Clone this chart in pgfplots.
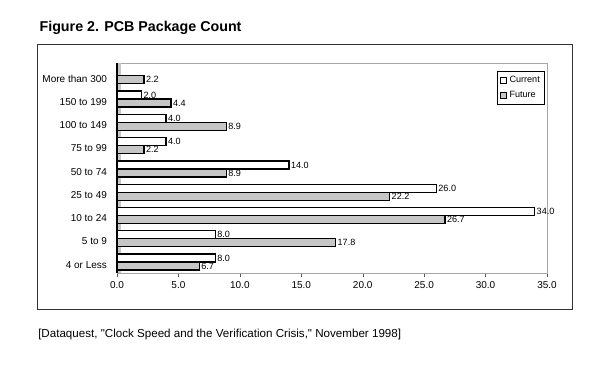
\documentclass[border=0pt]{standalone}
\usepackage{fontspec}
\setmainfont{Liberation Sans}
\usepackage{pgfplots}
\pgfplotsset{compat=1.18}
\begin{document}
\begin{tikzpicture}
\path[use as bounding box] (0,0) rectangle (450pt,281.25pt);
\draw[black!80, line width=0.6pt] (27.75pt,49.5pt) rectangle (429pt,248.25pt);
\node[anchor=west, font=\bfseries\fontsize{10.7}{12}\selectfont, inner sep=0] at (29.5pt,260.5pt) {Figure 2. PCB Package Count};
\node[anchor=west, font=\fontsize{8.7}{10}\selectfont, inner sep=0] at (28.5pt,30pt) {[Dataquest, \textquotedbl Clock Speed and the Verification Crisis,\textquotedbl\ November 1998]};
\begin{axis}[
  at={(87.75pt,76.5pt)}, anchor=south west, scale only axis,
  width=322.5pt, height=157.5pt,
  xmin=0, xmax=35, ymin=-0.47, ymax=8.55,
  xtick={0,5,...,35},
  ytick={0,...,8},
  yticklabels={4 or Less, 5 to 9, 10 to 24, 25 to 49, 50 to 74, 75 to 99, 100 to 149, 150 to 199, More than 300},
  /pgf/number format/fixed, /pgf/number format/fixed zerofill,
  /pgf/number format/precision=1, /pgf/number format/assume math mode=true,
  tick align=outside, major tick length=3pt,
  xtick pos=bottom, ytick pos=left,
  ytick style={draw=none},
  xtick style={gray!70!black},
  axis line style={gray!70},
  x tick label style={font=\fontsize{7.5}{8}\selectfont},
  y tick label style={font=\fontsize{7.5}{8}\selectfont, yshift=-2pt, xshift=-1pt},
  xbar, bar width=6pt,
  nodes near coords,
  nodes near coords style={font=\fontsize{6.8}{7}\selectfont, anchor=west, inner sep=1pt},
  legend style={at={(0.995,0.96)}, anchor=north east, font=\fontsize{6.8}{8}\selectfont, draw=black, line width=0.6pt, inner sep=1.5pt, row sep=1pt},
  legend cell align=left,
  legend image code/.code={\draw[#1, line width=0.9pt] (0pt,-2.2pt) rectangle (4.4pt,2.2pt);},
  clip=false,
]
\fill[gray!45] (rel axis cs:0,0) rectangle (rel axis cs:0.009,1);
\draw[black, line width=1.2pt] (rel axis cs:0,0) -- (rel axis cs:0,1);
\addplot[fill=white, draw=black, line width=1pt, bar shift=3pt] coordinates {(8,0) (8,1) (34,2) (26,3) (14,4) (4,5) (4,6) (2,7)};
\addplot[fill=gray!45, draw=black, line width=1pt, bar shift=-3pt] coordinates {(6.7,0) (17.8,1) (26.7,2) (22.2,3) (8.9,4) (2.2,5) (8.9,6) (4.4,7) (2.2,8)};
\legend{Current, Future}
\end{axis}
\end{tikzpicture}
\end{document}
